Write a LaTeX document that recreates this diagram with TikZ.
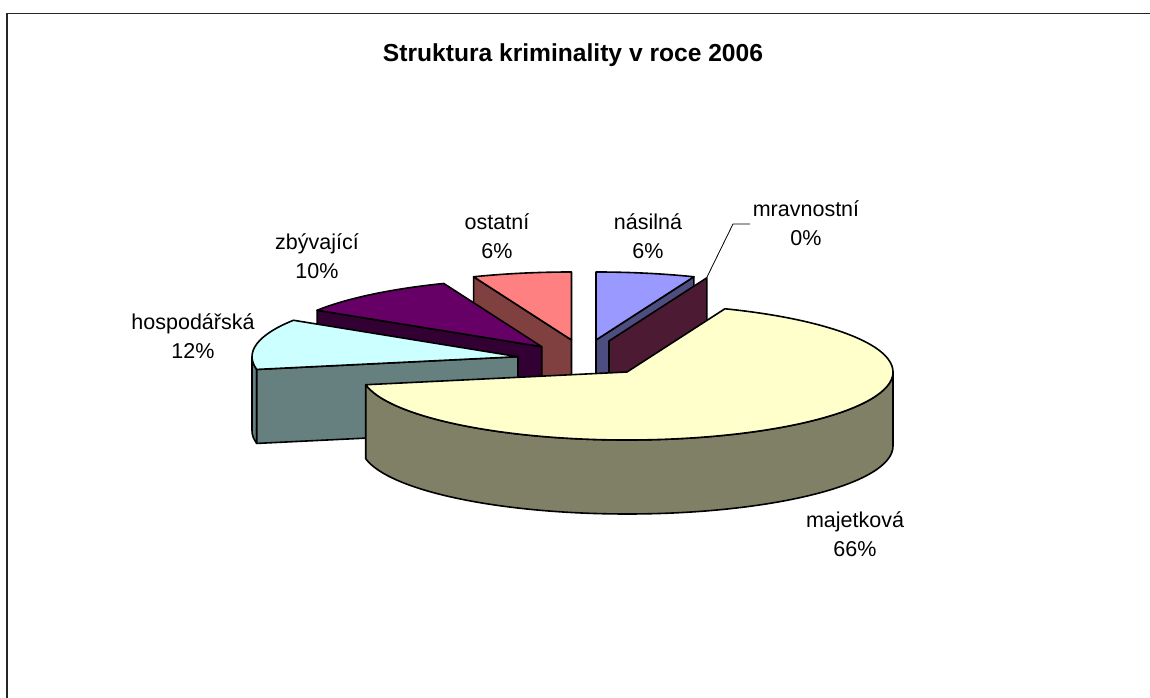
\documentclass[tikz,border=0pt]{standalone}
\usepackage{fontspec}
\setmainfont{Liberation Sans}
\definecolor{nasT}{HTML}{9999FF}\definecolor{nasS}{HTML}{4D4D80}
\definecolor{mraS}{HTML}{4D1A33}
\definecolor{majT}{HTML}{FFFFCC}\definecolor{majS}{HTML}{808066}
\definecolor{hosT}{HTML}{CCFFFF}\definecolor{hosS}{HTML}{668080}
\definecolor{zbyT}{HTML}{660066}\definecolor{zbyS}{HTML}{330033}
\definecolor{ostT}{HTML}{FF8080}\definecolor{ostS}{HTML}{804040}
\begin{document}
\begin{tikzpicture}[x=1pt,y=1pt,
  edge/.style={draw=black, line width=1.6pt, line join=round},
  ell/.style={x radius=266, y radius=68},
  lbl/.style={anchor=base, inner sep=0pt, font=\fontsize{21.5}{26}\selectfont},
  ttl/.style={anchor=base, inner sep=0pt, font=\bfseries\fontsize{24.6}{29}\selectfont}]
\useasboundingbox (0,0) rectangle (1150,698);
\fill[white] (0,0) rectangle (1150,698);
\draw[line width=1.5pt, black!85] (7,0) -- (7,684.5) -- (1150,684.5);
% ostatni
\begin{scope}[shift={(571.5,358)}]
 \draw[edge, fill=ostS] (0,0) -- (111.6:266 and 68) -- ++(0,-74) -- (0,-74) -- cycle;
 \draw[edge, fill=ostT] (0,0) -- (90:266 and 68) arc[ell, start angle=90, end angle=111.6] -- cycle;
\end{scope}
% zbyvajici
\begin{scope}[shift={(541.7,351.3)}]
 \draw[edge, fill=zbyS] (0,0) -- (147.6:266 and 68) -- ++(0,-74) -- (0,-74) -- cycle;
 \draw[edge, fill=zbyT] (0,0) -- (111.6:266 and 68) arc[ell, start angle=111.6, end angle=147.6] -- cycle;
\end{scope}
% hospodarska
\begin{scope}[shift={(518,341.3)}]
 \draw[edge, fill=hosS] (180:266 and 68) arc[ell, start angle=180, end angle=190.8] -- ++(0,-74) arc[ell, start angle=190.8, end angle=180] -- cycle;
 \draw[edge, fill=hosS] (0,0) -- (190.8:266 and 68) -- ++(0,-74) -- (0,-74) -- cycle;
 \draw[edge, fill=hosT] (0,0) -- (147.6:266 and 68) arc[ell, start angle=147.6, end angle=190.8] -- cycle;
\end{scope}
% nasilna
\begin{scope}[shift={(596,358)}]
 \draw[edge, fill=nasS] (0,0) -- (68.4:266 and 68) -- ++(0,-74) -- (0,-74) -- cycle;
 \draw[edge, fill=nasT] (0,0) -- (68.4:266 and 68) arc[ell, start angle=68.4, end angle=90] -- cycle;
\end{scope}
% mravnostni
\begin{scope}[shift={(609,357)}]
 \draw[edge, fill=mraS] (0,0) -- (68.4:266 and 68) -- ++(0,-74) -- (0,-74) -- cycle;
\end{scope}
% majetkova
\begin{scope}[shift={(627,326)}]
 \draw[edge, fill=majS] (-169.2:266 and 68) arc[ell, start angle=-169.2, end angle=0] -- ++(0,-74) arc[ell, start angle=0, end angle=-169.2] -- cycle;
 \draw[edge, fill=majT] (0,0) -- (-169.2:266 and 68) arc[ell, start angle=-169.2, end angle=68.4] -- cycle;
\end{scope}
% leader
\coordinate (ldA) at (750,474);
\coordinate (ldB) at (733,474);
\coordinate (ldC) at (707,421);
\draw[line width=0.8pt] (ldA) -- (ldB) -- (ldC);
% labels
\node[ttl] (title) at (573,636) {Struktura kriminality v roce 2006};
\node[lbl] (l1a) at (855,170) {majetková};
\node[lbl] (l1b) at (855,141) {66\%};
\node[lbl] (l2a) at (193,368) {hospodářská};
\node[lbl] (l2b) at (193,339) {12\%};
\node[lbl] (l3a) at (317,448) {zbývající};
\node[lbl] (l3b) at (317,419) {10\%};
\node[lbl] (l4a) at (497,468) {ostatní};
\node[lbl] (l4b) at (497,439) {6\%};
\node[lbl] (l5a) at (648,468) {násilná};
\node[lbl] (l5b) at (648,439) {6\%};
\node[lbl] (l6a) at (806,481) {mravnostní};
\node[lbl] (l6b) at (806,452.5) {0\%};
\end{tikzpicture}
\end{document}
